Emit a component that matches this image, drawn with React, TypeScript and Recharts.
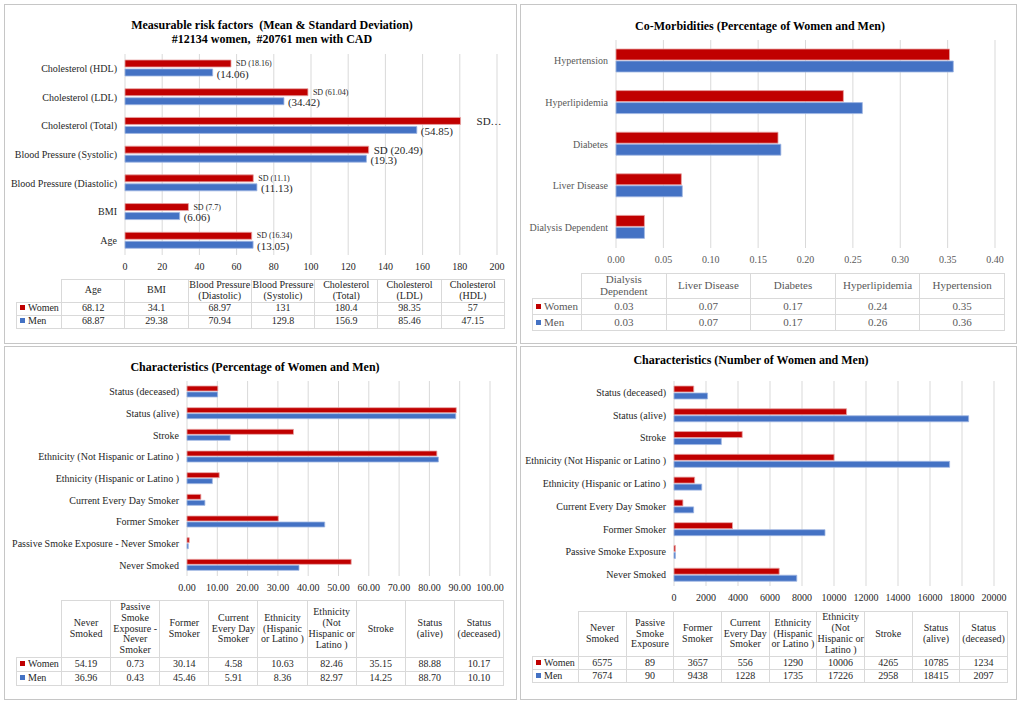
import React from 'react';
import { BarChart, Bar, XAxis, YAxis, CartesianGrid, LabelList } from 'recharts';

const RED = '#C00000';
const BLUE = '#4472C4';
const RED_EDGE = '#e7a3a3';
const BLUE_EDGE = '#9fb6e2';
const GRID = '#d9d9d9';
const FRAME = '#c6c6c6';
const SERIF = '"Liberation Serif", "Times New Roman", serif';

// Measurable risk factors (mean & SD)
const riskCategories = ['Age', 'BMI', 'Blood Pressure (Diastolic)', 'Blood Pressure (Systolic)', 'Cholesterol (Total)', 'Cholesterol (LDL)', 'Cholesterol (HDL)'];
const riskWomen = [68.12, 34.1, 68.97, 131, 180.4, 98.35, 57];
const riskMen = [68.87, 29.38, 70.94, 129.8, 156.9, 85.46, 47.15];
const riskWomenSd = ['SD (16.34)', 'SD (7.7)', 'SD (11.1)', 'SD (20.49)', 'SD…', 'SD (61.04)', 'SD (18.16)'];
const riskMenSd = ['(13.05)', '(6.06)', '(11.13)', '(19.3)', '(54.85)', '(34.42)', '(14.06)'];
const riskTicks = [0, 20, 40, 60, 80, 100, 120, 140, 160, 180, 200];

// Co-morbidities (share of women and men)
const comorbCategories = ['Dialysis Dependent', 'Liver Disease', 'Diabetes', 'Hyperlipidemia', 'Hypertension'];
const comorbWomen = [0.03, 0.069, 0.171, 0.24, 0.352];
const comorbMen = [0.03, 0.07, 0.174, 0.26, 0.356];
const comorbTicks = [0, 0.05, 0.1, 0.15, 0.2, 0.25, 0.3, 0.35, 0.4];

// Characteristics
const charPctCategories = ['Never Smoked', 'Passive Smoke Exposure - Never Smoker', 'Former Smoker ', 'Current Every Day Smoker', 'Ethnicity (Hispanic or Latino )', 'Ethnicity (Not Hispanic or Latino )', 'Stroke', 'Status (alive)', 'Status (deceased)'];
const charPctWomen = [54.19, 0.73, 30.14, 4.58, 10.63, 82.46, 35.15, 88.88, 10.17];
const charPctMen = [36.96, 0.43, 45.46, 5.91, 8.36, 82.97, 14.25, 88.7, 10.1];
const charPctTicks = [0, 10, 20, 30, 40, 50, 60, 70, 80, 90, 100];

const charNumCategories = ['Never Smoked', 'Passive Smoke Exposure', 'Former Smoker ', 'Current Every Day Smoker', 'Ethnicity (Hispanic or Latino )', 'Ethnicity (Not Hispanic or Latino )', 'Stroke', 'Status (alive)', 'Status (deceased)'];
const charNumWomen = [6575, 89, 3657, 556, 1290, 10006, 4265, 10785, 1234];
const charNumMen = [7674, 90, 9438, 1228, 1735, 17226, 2958, 18415, 2097];
const charNumTicks = [0, 2000, 4000, 6000, 8000, 10000, 12000, 14000, 16000, 18000, 20000];

// label font sizes for the SD annotations (style, not data)
const riskWomenSdSize = [8, 8, 8, 11, 11, 8, 8];

type ChartProps = {
  categories: string[];
  women: number[];
  men: number[];
  ticks: number[];
  fmt: (v: number) => string;
  left: number;
  top: number;
  plotX: number;
  plotY: number;
  plotW: number;
  plotH: number;
  barSize: number;
  barGap: number;
  labelColor: string;
  tickColor: string;
  womenLabels?: string[];
  menLabels?: string[];
};

function PanelChart(p: ChartProps) {
  const data = p.categories.map((name, i) => ({
    name,
    women: p.women[i],
    men: p.men[i],
    wl: p.womenLabels ? p.womenLabels[i] : '',
    ml: p.menLabels ? p.menLabels[i] : '',
  }));
  const yw = p.plotX - p.left;
  const width = yw + p.plotW + 15;
  const height = 10 + p.plotH + 30;

  const renderTick = (props: any) => (
    <text x={props.x} y={props.y} textAnchor="end" dominantBaseline="central" fontSize={10} fill={p.labelColor} style={{ fontFamily: SERIF }}>
      {props.payload.value}
    </text>
  );

  const womenLabel = (props: any) => {
    const { x, y, width: w, height: h, value, index } = props;
    if (!value) return null;
    const size = riskWomenSdSize[index] ?? 9;
    const off = value === 'SD…' ? 16 : 5;
    return (
      <text x={x + w + off} y={y + h / 2} dominantBaseline="central" fontSize={size} fill="#262626" style={{ fontFamily: SERIF }}>
        {value}
      </text>
    );
  };
  const menLabel = (props: any) => {
    const { x, y, width: w, height: h, value } = props;
    if (!value) return null;
    return (
      <text x={x + w + 4} y={y + h / 2 + 1} dominantBaseline="central" fontSize={11} fill="#262626" style={{ fontFamily: SERIF }}>
        {value}
      </text>
    );
  };

  return (
    <div style={{ position: 'absolute', left: p.left, top: p.top - 10, fontFamily: SERIF }}>
      <BarChart
        width={width}
        height={height}
        data={data}
        layout="vertical"
        margin={{ top: 10, right: 15, left: 0, bottom: 0 }}
        barGap={p.barGap}
        style={{ fontFamily: SERIF }}
      >
        <CartesianGrid horizontal={false} stroke={GRID} />
        <XAxis
          type="number"
          domain={[p.ticks[0], p.ticks[p.ticks.length - 1]]}
          ticks={p.ticks}
          interval={0}
          tickFormatter={p.fmt}
          axisLine={false}
          tickLine={false}
          height={30}
          tick={{ fontSize: 10, fill: p.tickColor, style: { fontFamily: SERIF } }}
        />
        <YAxis
          type="category"
          dataKey="name"
          reversed
          width={yw}
          interval={0}
          axisLine={false}
          tickLine={false}
          tick={renderTick}
        />
        <Bar dataKey="women" fill={RED} stroke={RED_EDGE} strokeWidth={0.8} barSize={p.barSize} isAnimationActive={false}>
          {p.womenLabels && <LabelList dataKey="wl" content={womenLabel} />}
        </Bar>
        <Bar dataKey="men" fill={BLUE} stroke={BLUE_EDGE} strokeWidth={0.8} barSize={p.barSize} isAnimationActive={false}>
          {p.menLabels && <LabelList dataKey="ml" content={menLabel} />}
        </Bar>
      </BarChart>
    </div>
  );
}

type TableProps = {
  categories: string[];
  women: string[];
  men: string[];
  left: number;
  top: number;
  labelW: number;
  right: number;
  headerH: number;
  rowH: number;
  fontSize: number;
  color: string;
};

function DataTable(t: TableProps) {
  const colW = (t.right - t.left - t.labelW) / t.categories.length;
  const cell: React.CSSProperties = {
    border: `1px solid ${GRID}`,
    padding: 0,
    textAlign: 'center',
    verticalAlign: 'middle',
    fontSize: t.fontSize,
    lineHeight: 1.08,
    color: t.color,
  };
  const key = (c: string) => (
    <span style={{ display: 'inline-block', width: 5, height: 5, background: c, marginRight: 3, verticalAlign: 'middle', position: 'relative', top: -1 }} />
  );
  return (
    <table
      style={{
        position: 'absolute',
        left: t.left,
        top: t.top,
        width: t.right - t.left,
        borderCollapse: 'collapse',
        tableLayout: 'fixed',
        fontFamily: SERIF,
      }}
    >
      <colgroup>
        <col style={{ width: t.labelW }} />
        {t.categories.map((c) => (
          <col key={c} style={{ width: colW }} />
        ))}
      </colgroup>
      <tbody>
        <tr style={{ height: t.headerH }}>
          <td style={{ ...cell, border: 'none' }} />
          {t.categories.map((c) => (
            <td key={c} style={cell}>{c}</td>
          ))}
        </tr>
        <tr style={{ height: t.rowH }}>
          <td style={{ ...cell, textAlign: 'left', paddingLeft: 3 }}>{key(RED)}Women</td>
          {t.women.map((v, i) => (
            <td key={i} style={cell}>{v}</td>
          ))}
        </tr>
        <tr style={{ height: t.rowH }}>
          <td style={{ ...cell, textAlign: 'left', paddingLeft: 3 }}>{key(BLUE)}Men</td>
          {t.men.map((v, i) => (
            <td key={i} style={cell}>{v}</td>
          ))}
        </tr>
      </tbody>
    </table>
  );
}

function Frame({ x, y, w, h }: { x: number; y: number; w: number; h: number }) {
  return <div style={{ position: 'absolute', left: x, top: y, width: w, height: h, border: `1px solid ${FRAME}`, boxSizing: 'border-box' }} />;
}

function Title({ cx, top, lines }: { cx: number; top: number; lines: string[] }) {
  return (
    <div
      style={{
        position: 'absolute',
        left: cx - 250,
        top,
        width: 500,
        textAlign: 'center',
        fontFamily: SERIF,
        fontWeight: 'bold',
        fontSize: 12,
        lineHeight: '14px',
        color: '#000',
        whiteSpace: 'pre',
      }}
    >
      {lines.map((l) => (
        <div key={l}>{l}</div>
      ))}
    </div>
  );
}

export default function App() {
  return (
    <div style={{ position: 'absolute', left: 0, top: 0, width: 1021, height: 701, background: '#fff', overflow: 'hidden', fontFamily: SERIF }}>
      <Frame x={4} y={4} w={513} h={340} />
      <Frame x={520} y={4} w={497} h={340} />
      <Frame x={4} y={346} w={513} h={354} />
      <Frame x={520} y={346} w={497} h={354} />

      <Title cx={272} top={18} lines={['Measurable risk factors  (Mean & Standard Deviation)', '#12134 women,  #20761 men with CAD']} />
      <PanelChart
        categories={riskCategories}
        women={riskWomen}
        men={riskMen}
        ticks={riskTicks}
        fmt={(v) => String(v)}
        left={6}
        top={54}
        plotX={125}
        plotY={54}
        plotW={372}
        plotH={201}
        barSize={7}
        barGap={2}
        labelColor="#262626"
        tickColor="#262626"
        womenLabels={riskWomenSd}
        menLabels={riskMenSd}
      />
      <DataTable
        categories={riskCategories}
        women={riskWomen.map(String)}
        men={riskMen.map(String)}
        left={16}
        top={279}
        labelW={45}
        right={504}
        headerH={22}
        rowH={13}
        fontSize={10}
        color="#262626"
      />

      <Title cx={760} top={19} lines={['Co-Morbidities (Percentage of Women and Men)']} />
      <PanelChart
        categories={comorbCategories}
        women={comorbWomen}
        men={comorbMen}
        ticks={comorbTicks}
        fmt={(v) => v.toFixed(2)}
        left={522}
        top={40}
        plotX={616}
        plotY={40}
        plotW={379}
        plotH={208}
        barSize={11}
        barGap={1}
        labelColor="#595959"
        tickColor="#595959"
      />
      <DataTable
        categories={comorbCategories}
        women={comorbWomen.map((v) => v.toFixed(2))}
        men={comorbMen.map((v) => v.toFixed(2))}
        left={532}
        top={273}
        labelW={49}
        right={1004}
        headerH={25}
        rowH={16}
        fontSize={11}
        color="#595959"
      />

      <Title cx={255} top={360} lines={['Characteristics (Percentage of Women and Men)']} />
      <PanelChart
        categories={charPctCategories}
        women={charPctWomen}
        men={charPctMen}
        ticks={charPctTicks}
        fmt={(v) => v.toFixed(2)}
        left={6}
        top={381}
        plotX={187}
        plotY={381}
        plotW={303}
        plotH={195}
        barSize={5}
        barGap={1}
        labelColor="#262626"
        tickColor="#262626"
      />
      <DataTable
        categories={charPctCategories}
        women={charPctWomen.map((v) => v.toFixed(2))}
        men={charPctMen.map((v) => v.toFixed(2))}
        left={16}
        top={600}
        labelW={45}
        right={503}
        headerH={57}
        rowH={14}
        fontSize={10}
        color="#262626"
      />

      <Title cx={751} top={353} lines={['Characteristics (Number of Women and Men)']} />
      <PanelChart
        categories={charNumCategories}
        women={charNumWomen}
        men={charNumMen}
        ticks={charNumTicks}
        fmt={(v) => String(v)}
        left={522}
        top={381}
        plotX={674}
        plotY={381}
        plotW={320}
        plotH={205}
        barSize={6}
        barGap={1}
        labelColor="#262626"
        tickColor="#262626"
      />
      <DataTable
        categories={charNumCategories}
        women={charNumWomen.map(String)}
        men={charNumMen.map(String)}
        left={532}
        top={611}
        labelW={46}
        right={1007}
        headerH={45}
        rowH={13}
        fontSize={10}
        color="#262626"
      />
    </div>
  );
}
